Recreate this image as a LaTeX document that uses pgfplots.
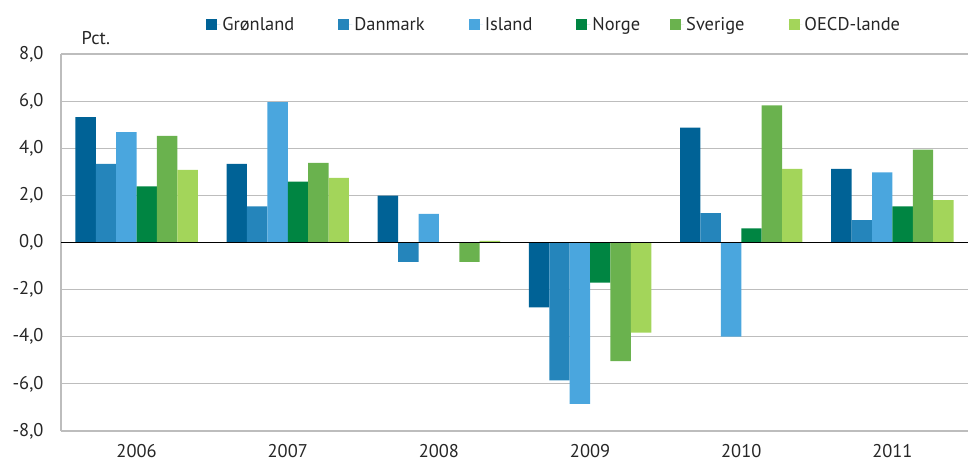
\documentclass[border=0pt]{standalone}
\usepackage{pgfplots}
\pgfplotsset{compat=1.18}
\usepackage{fontspec}
\setmainfont{PT Sans}
\definecolor{cGro}{HTML}{006296}
\definecolor{cDan}{HTML}{2585BB}
\definecolor{cIsl}{HTML}{4AA6DE}
\definecolor{cNor}{HTML}{008542}
\definecolor{cSve}{HTML}{6AB24E}
\definecolor{cOEC}{HTML}{A3D55A}
\definecolor{gridgray}{HTML}{BDBDBD}
\newcommand{\chartfont}{\fontsize{18.5}{21}\selectfont}
\begin{document}
\begin{tikzpicture}
\begin{axis}[
  at={(0,0)}, anchor=south west,
  scale only axis, width=907bp, height=377bp,
  xmin=-0.5, xmax=5.5, ymin=-8, ymax=8,
  ybar=0pt, bar width=0.135,
  xtick={0,1,2,3,4,5},
  xticklabels={2006,2007,2008,2009,2010,2011},
  ytick={-8,-6,-4,-2,0,2,4,6,8},
  ymajorgrids, grid style={gridgray, line width=1.2bp},
  axis lines*=left,
  axis line style={gridgray, line width=1.2bp, -},
  major tick length=0,
  tick label style={font=\chartfont, text=black!85},
  xticklabel style={yshift=-10bp},
  yticklabel style={xshift=-14bp},
  /pgf/number format/.cd, fixed, fixed zerofill, precision=1, use comma, assume math mode=true,
  /pgfplots/.cd,
  legend columns=6,
  legend style={draw=none, fill=none, at={(0.160,1.078)}, anchor=west,
    font=\chartfont, text=black!85,
    /tikz/every even column/.append style={column sep=42bp},
    legend cell align=left, inner sep=0pt},
  legend image code/.code={\fill[#1] (0bp,-5.5bp) rectangle (11bp,5.5bp); \path (0bp,0bp) -- (14bp,0bp);},
  clip=false,
]
\addplot[fill=cGro, draw=none] coordinates {(0,5.32) (1,3.34) (2,1.99) (3,-2.75) (4,4.87) (5,3.12)};
\addplot[fill=cDan, draw=none] coordinates {(0,3.34) (1,1.53) (2,-0.82) (3,-5.85) (4,1.25) (5,0.95)};
\addplot[fill=cIsl, draw=none] coordinates {(0,4.68) (1,5.96) (2,1.21) (3,-6.85) (4,-4.0) (5,2.98)};
\addplot[fill=cNor, draw=none] coordinates {(0,2.38) (1,2.58) (2,0.0) (3,-1.70) (4,0.60) (5,1.53)};
\addplot[fill=cSve, draw=none] coordinates {(0,4.53) (1,3.38) (2,-0.82) (3,-5.03) (4,5.82) (5,3.94)};
\addplot[fill=cOEC, draw=none] coordinates {(0,3.08) (1,2.74) (2,0.07) (3,-3.83) (4,3.12) (5,1.80)};
\legend{Grønland,Danmark,Island,Norge\hspace*{-14bp},Sverige,OECD-lande}
\draw[black, line width=1.6bp] (axis cs:-0.5,0) -- (axis cs:5.5,0);
\node[anchor=west, font=\chartfont, text=black!85] at (rel axis cs:0.019,1.042) {Pct.};
\end{axis}
\pgfresetboundingbox
\path (-61bp,-30bp) rectangle (908bp,431bp);
\end{tikzpicture}
\end{document}
